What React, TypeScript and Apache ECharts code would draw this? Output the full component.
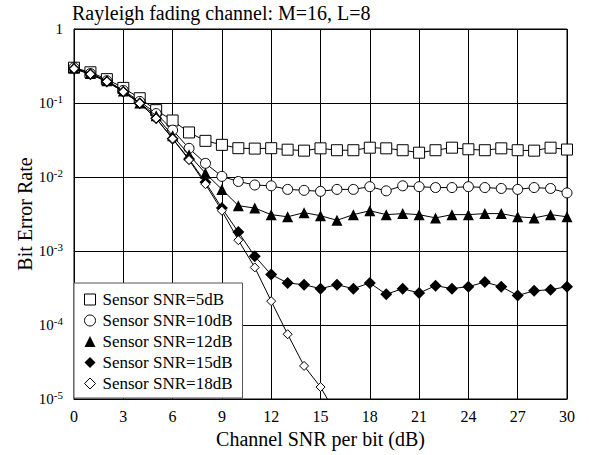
import React, { useEffect, useRef } from "react";
import * as echarts from "echarts";

const titleText = "Rayleigh fading channel: M=16, L=8";
const xName = "Channel SNR per bit (dB)";
const yName = "Bit Error Rate";
const seriesNames = [
  "Sensor SNR=5dB",
  "Sensor SNR=10dB",
  "Sensor SNR=12dB",
  "Sensor SNR=15dB",
  "Sensor SNR=18dB",
];
const channelSnr = [
  0, 1, 2, 3, 4, 5, 6, 7, 8, 9, 10, 11, 12, 13, 14, 15, 16, 17, 18, 19, 20,
  21, 22, 23, 24, 25, 26, 27, 28, 29, 30,
];
const ber5 = [
  0.3, 0.26, 0.21, 0.16, 0.116, 0.08, 0.058, 0.04, 0.0308, 0.0272, 0.0245,
  0.0242, 0.0245, 0.0234, 0.0227, 0.0244, 0.023, 0.023, 0.0249, 0.0244, 0.023,
  0.0213, 0.023, 0.0249, 0.0237, 0.023, 0.0244, 0.023, 0.0227, 0.0249, 0.0235,
];
const ber10 = [
  0.3, 0.25, 0.2, 0.148, 0.105, 0.072, 0.043, 0.0244, 0.0153, 0.0102, 0.0087,
  0.0078, 0.0076, 0.0068, 0.0066, 0.0064, 0.0068, 0.0068, 0.0074, 0.0065,
  0.0076, 0.0074, 0.0072, 0.0072, 0.0074, 0.0072, 0.007, 0.0068, 0.0072, 0.007,
  0.0061,
];
const ber12 = [
  0.3, 0.25, 0.2, 0.145, 0.1, 0.067, 0.036, 0.02, 0.0112, 0.0068, 0.0041,
  0.0038, 0.0031, 0.0029, 0.0033, 0.003, 0.0026, 0.0031, 0.0035, 0.0031,
  0.0032, 0.0031, 0.0028, 0.0031, 0.0031, 0.0032, 0.0032, 0.0029, 0.0028,
  0.0031, 0.0029,
];
const ber15 = [
  0.29, 0.245, 0.195, 0.142, 0.099, 0.062, 0.033, 0.0175, 0.0085, 0.0038,
  0.0018, 0.00085, 0.00048, 0.00037, 0.00035, 0.00031, 0.00035, 0.00031,
  0.00037, 0.00026, 0.00031, 0.00027, 0.00034, 0.00031, 0.00033, 0.00038,
  0.00033, 0.00025, 0.00029, 0.0003, 0.00033,
];
const ber18 = [
  0.29, 0.245, 0.195, 0.142, 0.099, 0.062, 0.033, 0.017, 0.008, 0.0035, 0.0014,
  0.0006, 0.00021, 0.000075, 0.000028, 0.0000145, 0.000006,
];

const FONT = "'Liberation Serif', 'Times New Roman', serif";

const symbols = ["rect", "circle", "triangle", "diamond", "diamond"];
const symbolSizes = [11, 10, 11, 12, 9];
const hollow = [true, true, false, false, true];
const allData = [ber5, ber10, ber12, ber15, ber18];

export default function App() {
  const ref = useRef<HTMLDivElement>(null);
  useEffect(() => {
    if (!ref.current) return;
    const chart = echarts.init(ref.current, undefined, { renderer: "svg" });
    const series = allData.map((arr, i) => ({
      name: seriesNames[i],
      type: "line",
      data: arr.map((v, j) => [channelSnr[j], v]),
      symbol: symbols[i],
      symbolSize: symbolSizes[i],
      showSymbol: true,
      clip: true,
      silent: true,
      z: 2 + i,
      lineStyle: { color: "#000", width: 1 },
      itemStyle: hollow[i]
        ? { color: "#fff", borderColor: "#000", borderWidth: 1 }
        : { color: "#000", borderColor: "#000", borderWidth: 0 },
      emphasis: { disabled: true },
    }));
    chart.setOption({
      animation: false,
      backgroundColor: "#fff",
      title: {
        text: titleText,
        left: 72,
        top: 3,
        padding: 0,
        textStyle: {
          fontFamily: FONT,
          fontSize: 20,
          fontWeight: "normal",
          color: "#000",
        },
      },
      grid: {
        left: 74,
        right: 22,
        top: 29,
        bottom: 56,
        show: true,
        borderColor: "#000",
        borderWidth: 1,
        backgroundColor: "transparent",
        outerBoundsMode: "none",
      },
      legend: {
        orient: "vertical",
        left: 74,
        top: 283,
        padding: [8, 10, 6, 10],
        itemGap: 4,
        itemWidth: 11,
        itemHeight: 11,
        backgroundColor: "#fff",
        borderColor: "#555",
        borderWidth: 1,
        z: 10,
        selectedMode: false,
        textStyle: {
          fontFamily: FONT,
          fontSize: 17,
          color: "#000",
          padding: [0, 0, 0, 2],
        },
        data: seriesNames.map((n, i) => ({
          name: n,
          icon: symbols[i],
          itemStyle: hollow[i]
            ? { color: "#fff", borderColor: "#000", borderWidth: 1 }
            : { color: "#000", borderColor: "#000", borderWidth: 0 },
        })),
      },
      xAxis: {
        type: "value",
        min: 0,
        max: 30,
        interval: 3,
        name: xName,
        nameLocation: "middle",
        nameGap: 30,
        nameMoveOverlap: false,
        nameTextStyle: { fontFamily: FONT, fontSize: 20, color: "#000" },
        axisLine: { show: true, lineStyle: { color: "#000", width: 1 } },
        axisTick: { show: false },
        axisLabel: {
          fontFamily: FONT,
          fontSize: 16,
          color: "#000",
          margin: 9,
        },
        splitLine: { show: true, lineStyle: { color: "#000", width: 1 } },
      },
      yAxis: {
        type: "log",
        logBase: 10,
        min: 1e-5,
        max: 1,
        name: yName,
        nameLocation: "middle",
        nameGap: 39,
        nameMoveOverlap: false,
        nameTextStyle: { fontFamily: FONT, fontSize: 20, color: "#000" },
        axisLine: { show: true, lineStyle: { color: "#000", width: 1 } },
        axisTick: { show: false },
        axisLabel: {
          margin: 11,
          formatter: (v: number) => {
            const e = Math.round(Math.log10(v));
            return e === 0 ? "{n|1}" : `{n|10}{s|${e}}`;
          },
          rich: {
            n: {
              fontFamily: FONT,
              fontSize: 15,
              color: "#000",
              lineHeight: 20,
            },
            s: {
              fontFamily: FONT,
              fontSize: 11,
              color: "#000",
              verticalAlign: "top",
              lineHeight: 12,
            },
          },
        },
        splitLine: { show: true, lineStyle: { color: "#000", width: 1 } },
      },
      series,
    });
    return () => chart.dispose();
  }, []);
  return (
    <div
      ref={ref}
      style={{
        position: "fixed",
        left: 0,
        top: 0,
        width: 589,
        height: 455,
        background: "#fff",
      }}
    />
  );
}
